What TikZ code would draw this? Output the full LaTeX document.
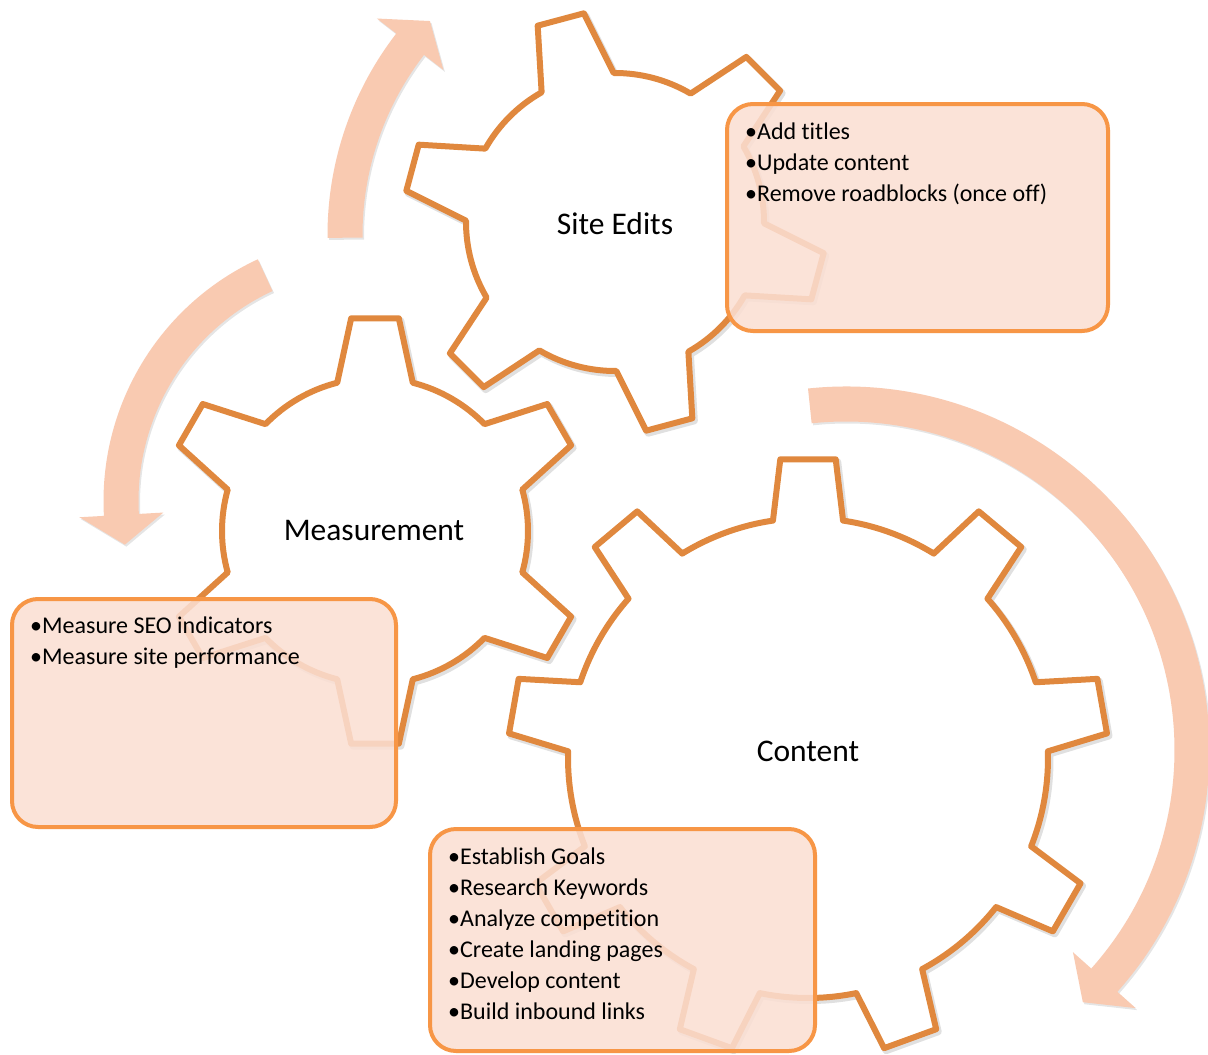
\documentclass[tikz,border=0pt]{standalone}
\usepackage{fontspec}
\setmainfont{Carlito}[Ligatures=NoCommon]
\definecolor{gearorange}{HTML}{E0883E}
\definecolor{boxline}{HTML}{F79646}
\definecolor{boxfill}{HTML}{FBDFD3}
\definecolor{arrowpeach}{HTML}{F9CAB1}
\newcommand{\gearshape}[8]{%
  \pgfmathsetmacro{\gearstep}{360/#3}%
  \path[#1, shift={#2}] ({#4-#8}:#6)
    \foreach \k [evaluate=\k as \ga using {#4+(\k-1)*\gearstep}] in {1,...,#3} {
      -- ({\ga-#7}:#5) -- ({\ga+#7}:#5) -- ({\ga+#8}:#6)
      arc[start angle={\ga+#8}, end angle={\ga+\gearstep-#8}, radius=#6]
    } -- cycle;
}
\newcommand{\ringarrow}[6]{%
  \path[#1, shift={#2}] (#4:{#3+17.5})
    arc[start angle=#4, end angle=#5, radius={#3+17.5}]
    -- (#5:{#3+42}) -- (#6:#3) -- (#5:{#3-42}) -- (#5:{#3-17.5})
    arc[start angle=#5, end angle=#4, radius={#3-17.5}] -- cycle;
}
\tikzset{
  gearline/.style={draw=gearorange, line width=6, line join=round, fill=white},
  gearshadow/.style={draw=black, draw opacity=0.12, line width=7, line join=round, xshift=2, yshift=-2.5},
  arrowbody/.style={fill=arrowpeach},
  arrowshadow/.style={fill=black, fill opacity=0.10, xshift=1.5, yshift=-2},
  infobox/.style={draw=boxline, line width=4, fill=boxfill, fill opacity=0.87, rounded corners=26, inner sep=0},
  glabel/.style={font=\fontsize{31.5}{36}\selectfont, inner sep=0},
  item/.style={font=\fontsize{24}{31}\selectfont, inner sep=0, anchor=base west},
}
\begin{document}
\begin{tikzpicture}[x=1pt, y=1pt]
\useasboundingbox (0,0) rectangle (1208,-1055);
\fill[white] (0,0) rectangle (1208,-1055);
% arrows
\ringarrow{arrowshadow}{(657,-235)}{312}{180.5}{142.3}{136.7}
\ringarrow{arrowbody}{(657,-235)}{312}{180.5}{142.3}{136.7}
\ringarrow{arrowshadow}{(370,-501)}{249}{114.9}{183.2}{190.1}
\ringarrow{arrowbody}{(370,-501)}{249}{114.9}{183.2}{190.1}
\ringarrow{arrowshadow}{(846,-750)}{346}{96}{-41.7}{-46.8}
\ringarrow{arrowbody}{(846,-750)}{346}{96}{-41.7}{-46.8}
% gears
\gearshape{gearshadow}{(615,-222)}{6}{105}{211}{149}{6.5}{14.5}
\gearshape{gearline}{(615,-222)}{6}{105}{211}{149}{6.5}{14.5}
\gearshape{gearshadow}{(375,-531)}{6}{90}{214}{153}{6.4}{14.3}
\gearshape{gearline}{(375,-531)}{6}{90}{214}{153}{6.4}{14.3}
\gearshape{gearshadow}{(808,-758)}{9}{90}{300}{240}{5.3}{8.4}
\gearshape{gearline}{(808,-758)}{9}{90}{300}{240}{5.3}{8.4}
% labels
\node[glabel] (lsite) at (615,-224) {Site Edits};
\node[glabel] (lmeas) at (374,-531) {Measurement};
\node[glabel] (lcont) at (808,-751) {Content};
% boxes
\node[infobox, minimum width=381, minimum height=227] (bsite) at (917.5,-217.5) {};
\node[infobox, minimum width=384, minimum height=228] (bmeas) at (204,-713) {};
\node[infobox, minimum width=385, minimum height=222] (bcont) at (622.5,-940) {};
% items
\foreach \t [count=\i] in {Add titles, Update content, Remove roadblocks (once off)}
  \node[item] (se\i) at (745,{-139-31*(\i-1)}) {•\t};
\foreach \t [count=\i] in {Measure SEO indicators, Measure site performance}
  \node[item] (me\i) at (30,{-633-31*(\i-1)}) {•\t};
\foreach \t [count=\i] in {Establish Goals, Research Keywords, Analyze competition, Create landing pages, Develop content, Build inbound links}
  \node[item] (co\i) at (448,{-864-31*(\i-1)}) {•\t};
\end{tikzpicture}
\end{document}
